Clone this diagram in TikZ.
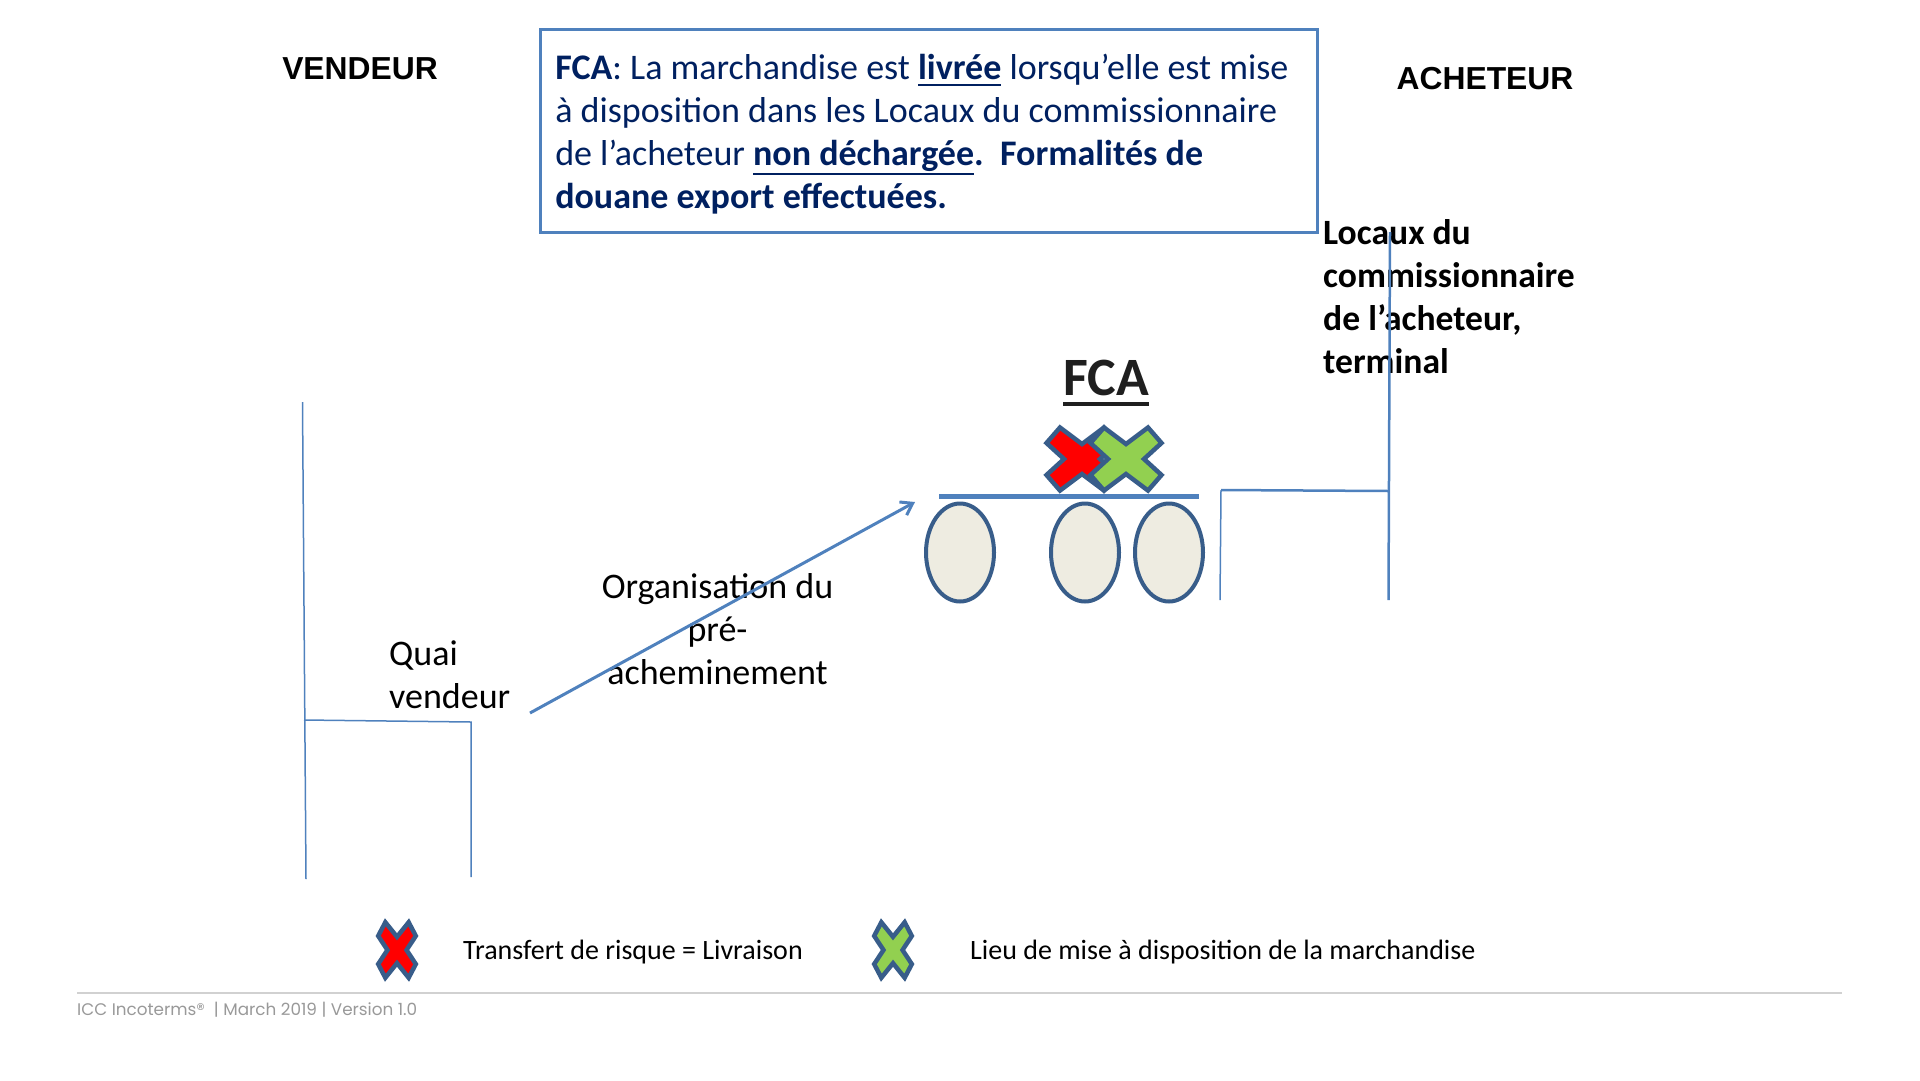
\documentclass[tikz,border=0pt]{standalone}
\usepackage{fontspec}
\setmainfont{Carlito}
\newfontfamily\headfont{Liberation Sans}
\newfontfamily\footfont{Poppins}
\usetikzlibrary{arrows.meta,positioning,shapes.geometric}
\newcommand{\ulbar}[3]{\leavevmode\setbox0\hbox{#3}\rlap{\rule[-#1]{\wd0}{#2}}\box0\relax}
\definecolor{linebl}{HTML}{4F81BD}
\definecolor{markbl}{HTML}{385D8A}
\definecolor{wheelbg}{HTML}{EEECE1}
\definecolor{navytxt}{HTML}{002060}
\definecolor{markgr}{HTML}{92D050}
\tikzset{
  infobox/.style = {draw=linebl, line width=3.5pt, minimum width=777pt, minimum height=203pt,
                    text width=747pt, align=flush left, inner sep=0pt, text=navytxt,
                    font=\fontsize{36}{43}\selectfont},
  party/.style   = {font=\headfont\bfseries\fontsize{31.8}{38}\selectfont},
  lbl/.style     = {align=flush left, font=\fontsize{36}{43}\selectfont, inner sep=0pt},
  lblb/.style    = {align=flush left, font=\bfseries\fontsize{35.6}{43}\selectfont, inner sep=0pt},
  lglbl/.style   = {font=\fontsize{28}{34}\selectfont, inner sep=0pt, anchor=west},
  wheel/.style   = {ellipse, draw=markbl, line width=4pt, fill=wheelbg,
                    minimum width=68pt, minimum height=98pt, inner sep=0pt},
  wall/.style    = {draw=linebl, line width=1.5pt},
  wallb/.style   = {draw=linebl, line width=2.5pt},
  ar/.style      = {-{Straight Barb[length=11pt,width=15pt]}, draw=linebl, line width=3pt},
  xmark/.pic     = {
    \draw[pic actions, draw=markbl, line width=4.5pt, line join=miter]
      (0,-15) -- (22,-31.5) -- (35.5,-16) -- (18,0) -- (35.5,16) -- (22,31.5) -- (0,15)
      -- (-22,31.5) -- (-35.5,16) -- (-18,0) -- (-35.5,-16) -- (-22,-31.5) -- cycle;
  }
}
\begin{document}
\begin{tikzpicture}[x=1pt, y=-1pt]
  \useasboundingbox (0,0) rectangle (1920,1080);
  \node[party] (vendeur) at (360,68.5) {VENDEUR};
  \node[party] (acheteur) at (1485,79) {ACHETEUR};
  \node[infobox, anchor=north west] (info) at (538.5,27.5)
    {\rule{0pt}{32.5pt}\textbf{FCA}: La marchandise est \ulbar{6pt}{2pt}{\textbf{livrée}} lorsqu’elle est mise\\
     à disposition dans les Locaux du commissionnaire\\
     de l’acheteur \ulbar{9pt}{2pt}{\textbf{non déchargée}}\textbf{.\ \ Formalités de}\\
     \textbf{douane export effectuées.}};
  \node[lblb, anchor=north west] (locaux) at (1323,219)
    {Locaux du\\commissionnaire\\de l’acheteur,\\terminal};
  \node[lbl, anchor=north west] (quai) at (389,641) {Quai\\vendeur};
  \node[lbl, align=flush center] (orga) at (717.5,629) {Organisation du\\pré-\\acheminement};
  % seller side
  \coordinate (v1) at (302.5,402);
  \coordinate (v2) at (306,879);
  \coordinate (q1) at (304,720);
  \coordinate (q2) at (471,722);
  \coordinate (q3) at (471,877);
  \draw[wall] (v1) -- (v2);
  \draw[wall] (q1) -- (q2) -- (q3);
  % buyer side
  \coordinate (b1) at (1390,232);
  \coordinate (b2) at (1388.5,600);
  \coordinate (t1) at (1220,600);
  \coordinate (t2) at (1221,490);
  \coordinate (t3) at (1389,491);
  \draw[wallb] (b1) -- (b2);
  \draw[wall] (t1) -- (t2);
  \draw[wallb] (t2) -- (t3);
  \coordinate (a1) at (530,713);
  \coordinate (a2) at (915,502);
  \draw[ar] (a1) -- (a2);
  % truck
  \foreach \n/\x in {wa/960,wb/1085,wc/1169}
    {\node[wheel] (\n) at (\x,552.5) {};}
  \coordinate (p1) at (939,496);
  \coordinate (p2) at (1199,496);
  \draw[draw=linebl, line width=5pt] (p1) -- (p2);
  \pic[fill=red] at (1082,459) {xmark};
  \pic[fill=markgr] at (1126,459) {xmark};
  \node[inner sep=0pt, font=\bfseries\fontsize{54}{60}\selectfont, text=black!88] (fca) at (1106,383)
    {\ulbar{10pt}{3.5pt}{FCA}};
  % legend
  \pic[fill=red, xscale=.53, yscale=.88] at (397,950) {xmark};
  \pic[fill=markgr, xscale=.53, yscale=.88] at (893,950) {xmark};
  \node[lglbl] (risk) at (463,952) {Transfert de risque = Livraison};
  \node[lglbl] (lieu) at (970,952) {Lieu de mise à disposition de la marchandise};
  \coordinate (f1) at (77,993);
  \coordinate (f2) at (1842,993);
  \draw[draw=black!18, line width=1.5pt] (f1) -- (f2);
  \node[inner sep=0pt, anchor=west, text=black!40, font=\footfont\fontsize{16.8}{20}\selectfont] (foot) at (77,1010)
    {ICC Incoterms®\ \ | March 2019 | Version 1.0};
\end{tikzpicture}
\end{document}
